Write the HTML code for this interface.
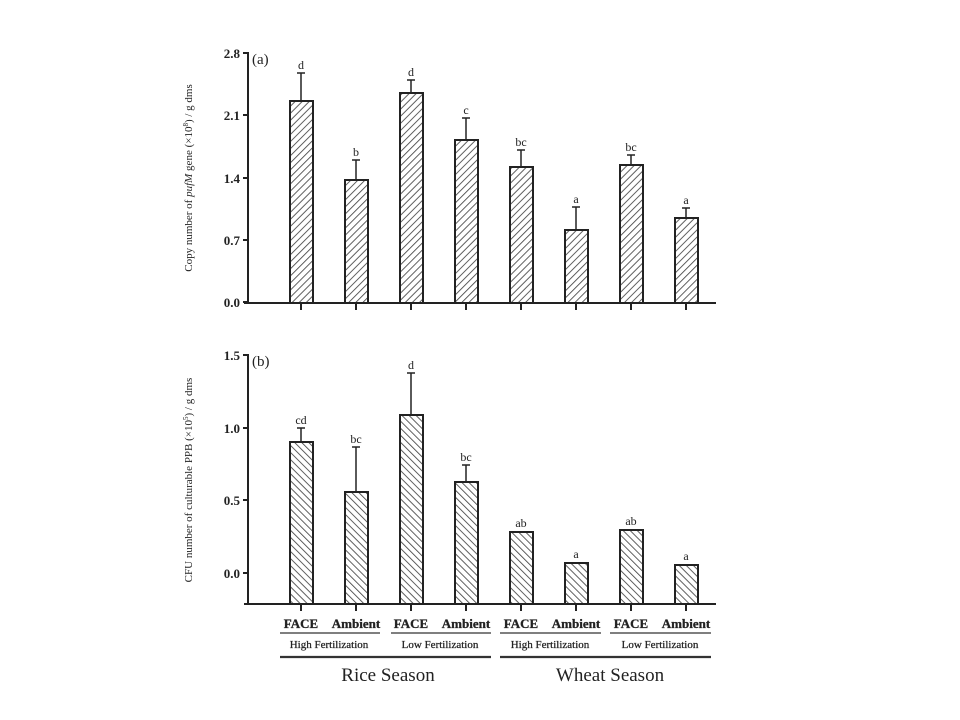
<!DOCTYPE html>
<html><head><style>body{margin:0;background:#fff}svg{display:block}</style></head><body>
<svg width="960" height="720" xmlns="http://www.w3.org/2000/svg" font-family="Liberation Serif, serif" fill="#222">
<defs>
<pattern id="h1" width="5" height="5" patternUnits="userSpaceOnUse" patternTransform="rotate(45)"><rect width="5" height="5" fill="#fff"/><line x1="0" y1="0" x2="0" y2="5" stroke="#444" stroke-width="1.7"/></pattern>
<pattern id="h2" width="5" height="5" patternUnits="userSpaceOnUse" patternTransform="rotate(-45)"><rect width="5" height="5" fill="#fff"/><line x1="0" y1="0" x2="0" y2="5" stroke="#444" stroke-width="1.7"/></pattern>
</defs>
<g stroke="#222" stroke-width="2" fill="none">
<line x1="248" y1="52" x2="248" y2="303"/>
<line x1="244" y1="303" x2="716" y2="303"/>
<line x1="243" y1="53" x2="248" y2="53"/><line x1="243" y1="115" x2="248" y2="115"/><line x1="243" y1="178" x2="248" y2="178"/><line x1="243" y1="240" x2="248" y2="240"/><line x1="243" y1="302" x2="248" y2="302"/>
<line x1="248" y1="354" x2="248" y2="604"/>
<line x1="244" y1="604" x2="716" y2="604"/>
<line x1="243" y1="355" x2="248" y2="355"/><line x1="243" y1="428" x2="248" y2="428"/><line x1="243" y1="500" x2="248" y2="500"/><line x1="243" y1="573" x2="248" y2="573"/>
</g>
<g stroke="#222" stroke-width="2">
<line x1="301" y1="303" x2="301" y2="310"/><line x1="356" y1="303" x2="356" y2="310"/><line x1="411" y1="303" x2="411" y2="310"/><line x1="466" y1="303" x2="466" y2="310"/><line x1="521" y1="303" x2="521" y2="310"/><line x1="576" y1="303" x2="576" y2="310"/><line x1="631" y1="303" x2="631" y2="310"/><line x1="686" y1="303" x2="686" y2="310"/>
<line x1="301" y1="604" x2="301" y2="611"/><line x1="356" y1="604" x2="356" y2="611"/><line x1="411" y1="604" x2="411" y2="611"/><line x1="466" y1="604" x2="466" y2="611"/><line x1="521" y1="604" x2="521" y2="611"/><line x1="576" y1="604" x2="576" y2="611"/><line x1="631" y1="604" x2="631" y2="611"/><line x1="686" y1="604" x2="686" y2="611"/>
</g>
<g stroke="#222" stroke-width="1.5">
<line x1="301" y1="101" x2="301" y2="73"/><line x1="297" y1="73" x2="305" y2="73"/>
<line x1="356" y1="180" x2="356" y2="160"/><line x1="352" y1="160" x2="360" y2="160"/>
<line x1="411" y1="93" x2="411" y2="80"/><line x1="407" y1="80" x2="415" y2="80"/>
<line x1="466" y1="140" x2="466" y2="118"/><line x1="462" y1="118" x2="470" y2="118"/>
<line x1="521" y1="167" x2="521" y2="150"/><line x1="517" y1="150" x2="525" y2="150"/>
<line x1="576" y1="230" x2="576" y2="207"/><line x1="572" y1="207" x2="580" y2="207"/>
<line x1="631" y1="165" x2="631" y2="155"/><line x1="627" y1="155" x2="635" y2="155"/>
<line x1="686" y1="218" x2="686" y2="208"/><line x1="682" y1="208" x2="690" y2="208"/>
</g>
<g fill="url(#h1)" stroke="#222" stroke-width="2">
<rect x="290" y="101" width="23" height="202"/><rect x="345" y="180" width="23" height="123"/><rect x="400" y="93" width="23" height="210"/><rect x="455" y="140" width="23" height="163"/>
<rect x="510" y="167" width="23" height="136"/><rect x="565" y="230" width="23" height="73"/><rect x="620" y="165" width="23" height="138"/><rect x="675" y="218" width="23" height="85"/>
</g>
<g stroke="#222" stroke-width="1.5">
<line x1="301" y1="442" x2="301" y2="428"/><line x1="297" y1="428" x2="305" y2="428"/>
<line x1="356" y1="492" x2="356" y2="447"/><line x1="352" y1="447" x2="360" y2="447"/>
<line x1="411" y1="415" x2="411" y2="373"/><line x1="407" y1="373" x2="415" y2="373"/>
<line x1="466" y1="482" x2="466" y2="465"/><line x1="462" y1="465" x2="470" y2="465"/>
</g>
<g fill="url(#h2)" stroke="#222" stroke-width="2">
<rect x="290" y="442" width="23" height="162"/><rect x="345" y="492" width="23" height="112"/><rect x="400" y="415" width="23" height="189"/><rect x="455" y="482" width="23" height="122"/>
<rect x="510" y="532" width="23" height="72"/><rect x="565" y="563" width="23" height="41"/><rect x="620" y="530" width="23" height="74"/><rect x="675" y="565" width="23" height="39"/>
</g>
<g font-size="13" font-weight="bold" text-anchor="end">
<text x="240" y="58">2.8</text><text x="240" y="120">2.1</text><text x="240" y="183">1.4</text><text x="240" y="245">0.7</text><text x="240" y="307">0.0</text>
<text x="240" y="360">1.5</text><text x="240" y="433">1.0</text><text x="240" y="505">0.5</text><text x="240" y="578">0.0</text>
</g>
<text x="252" y="64" font-size="15">(a)</text>
<text x="252" y="366" font-size="15">(b)</text>
<g font-size="12" text-anchor="middle">
<text x="301" y="69">d</text><text x="356" y="156">b</text><text x="411" y="76">d</text><text x="466" y="114">c</text><text x="521" y="146">bc</text><text x="576" y="203">a</text><text x="631" y="151">bc</text><text x="686" y="204">a</text>
<text x="301" y="424">cd</text><text x="356" y="443">bc</text><text x="411" y="369">d</text><text x="466" y="461">bc</text><text x="521" y="527">ab</text><text x="576" y="558">a</text><text x="631" y="525">ab</text><text x="686" y="560">a</text>
</g>
<text transform="translate(192,178) rotate(-90)" font-size="11" text-anchor="middle">Copy number of <tspan font-style="italic">pufM</tspan> gene (×10<tspan font-size="7" dy="-4">8</tspan><tspan dy="4">) / g dms</tspan></text>
<text transform="translate(192,480) rotate(-90)" font-size="11" text-anchor="middle">CFU number of culturable PPB (×10<tspan font-size="7" dy="-4">5</tspan><tspan dy="4">) / g dms</tspan></text>
<g font-size="13" text-anchor="middle" font-weight="600" stroke="#222" stroke-width="0.3">
<text x="301" y="628">FACE</text><text x="356" y="628">Ambient</text><text x="411" y="628">FACE</text><text x="466" y="628">Ambient</text>
<text x="521" y="628">FACE</text><text x="576" y="628">Ambient</text><text x="631" y="628">FACE</text><text x="686" y="628">Ambient</text>
</g>
<g stroke="#333" stroke-width="1.2">
<line x1="280" y1="633" x2="380" y2="633"/><line x1="391" y1="633" x2="491" y2="633"/><line x1="500" y1="633" x2="601" y2="633"/><line x1="610" y1="633" x2="711" y2="633"/>
</g>
<g font-size="11" text-anchor="middle" stroke="#222" stroke-width="0.25">
<text x="329" y="648">High Fertilization</text><text x="440" y="648">Low Fertilization</text><text x="550" y="648">High Fertilization</text><text x="660" y="648">Low Fertilization</text>
</g>
<g stroke="#333" stroke-width="2.2">
<line x1="280" y1="657" x2="491" y2="657"/><line x1="500" y1="657" x2="711" y2="657"/>
</g>
<g font-size="19" text-anchor="middle">
<text x="388" y="681">Rice Season</text><text x="610" y="681">Wheat Season</text>
</g>
</svg>
</body></html>
